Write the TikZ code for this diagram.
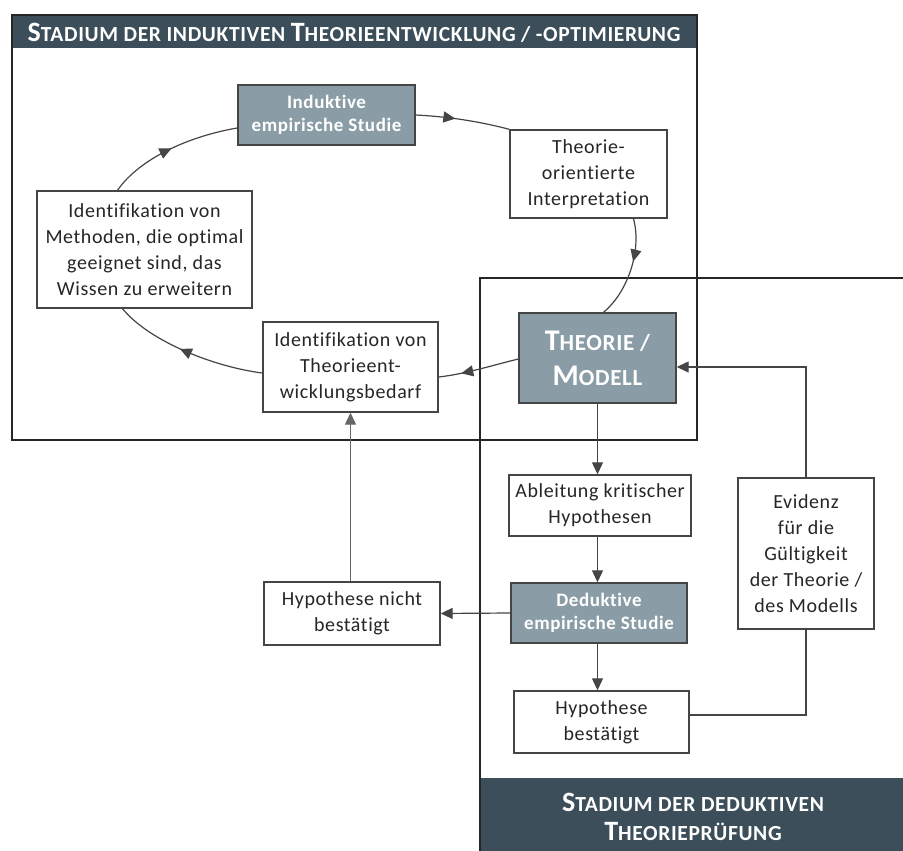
\documentclass[tikz,border=0pt]{standalone}
\usepackage{fontspec}
\setmainfont{Carlito}[LetterSpace=3,Ligatures=NoCommon]
\usetikzlibrary{arrows.meta,decorations.markings,calc}
\definecolor{hdr}{HTML}{3B4E59}
\definecolor{boxgray}{HTML}{8A9DA7}
\definecolor{ln}{HTML}{454545}
\newcommand\bigsc[1]{{\fontsize{28}{28}\selectfont #1}}
\newcommand\bigscb[1]{{\fontsize{30}{30}\selectfont #1}}
\tikzset{
  box/.style={draw=ln, line width=1.4pt, fill=white, align=center, inner sep=0pt,
    font=\fontsize{20}{26}\selectfont, text=black!85},
  graybox/.style={box, fill=boxgray, text=white, font=\bfseries\fontsize{19}{25}\selectfont},
  frame/.style={draw=black!85, line width=2.6pt},
  conn/.style={draw=ln, line width=1.2pt},
  arr/.style={conn, -{Triangle[length=12pt,width=11pt]}},
  midarr/.style={conn, postaction={decorate}, decoration={markings,
    mark=at position #1 with {\arrow{Triangle[length=12pt,width=11pt]}}}},
}
\begin{document}
\begin{tikzpicture}[x=1pt,y=-1pt]
\useasboundingbox (0,0) rectangle (903,851);
\fill[white] (0,0) rectangle (903,851);
% frames
\fill[hdr] (12,15) rectangle (697,48);
\draw[frame] (12,15) rectangle (697,440);
\fill[hdr] (480,778) rectangle (910,860);
\draw[frame] (480,860) -- (480,278) -- (910,278);
\node[text=white, font=\bfseries\fontsize{21.5}{21.5}\selectfont] (hdrtop) at (354,33)
  {\bigsc{S}TADIUM DER INDUKTIVEN \bigsc{T}HEORIEENTWICKLUNG / -OPTIMIERUNG};
\node[text=white, font=\bfseries\fontsize{21.5}{29}\selectfont, align=center] (hdrbot) at (693,817)
  {\bigsc{S}TADIUM DER DEDUKTIVEN\\\bigsc{T}HEORIEPRÜFUNG};
% nodes
\node[graybox, minimum width=177, minimum height=60] (ind) at (326.5,115) {Induktive\\[-2pt]empirische Studie};
\node[box, minimum width=157, minimum height=88] (tint) at (588.5,174) {Theorie-\\orientierte\\Interpretation};
\node[box, minimum width=215, minimum height=117] (meth) at (144.5,249.5) {Identifikation von\\Methoden, die optimal\\geeignet sind, das\\Wissen zu erweitern};
\node[box, minimum width=175, minimum height=90] (bed) at (350.5,367) {Identifikation von\\Theorieent-\\wicklungsbedarf};
\node[graybox, minimum width=157, minimum height=90, font=\bfseries\fontsize{23}{35}\selectfont] (mod) at (597.5,358) {\bigscb{T}HEORIE /\\\bigscb{M}ODELL};
\node[box, minimum width=182, minimum height=61] (abl) at (600,505.5) {Ableitung kritischer\\Hypothesen};
\node[graybox, minimum width=176, minimum height=60] (ded) at (599,613) {Deduktive\\[-2pt]empirische Studie};
\node[box, minimum width=175, minimum height=62] (hb) at (601.5,722) {Hypothese\\bestätigt};
\node[box, minimum width=136, minimum height=151] (evi) at (806,553.5) {Evidenz\\für die\\Gültigkeit\\der Theorie /\\des Modells};
\node[box, minimum width=176, minimum height=63] (hnb) at (352,613.5) {Hypothese nicht\\bestätigt};
% cycle
\draw[midarr=0.42] (ind.east) .. controls (455,117) and (485,123) .. (tint.north west);
\draw[midarr=0.42] ($(tint.south)+(45,0)$) .. controls (642,250) and (628,292) .. ($(mod.north)+(6,0)$);
\draw[midarr=0.72] ($(mod.west)+(0,1)$) .. controls (490,366) and (465,374) .. ($(bed.east)+(0,10)$);
\draw[midarr=0.55] ($(bed.west)+(0,6)$) .. controls (215,367) and (150,342) .. ($(meth.south)+(-22,0)$);
\draw[midarr=0.5] ($(meth.north)+(-27,0)$) .. controls (140,158) and (190,136) .. ($(ind.west)+(0,13)$);
% deductive chain
\draw[arr] (mod.south) -- (mod.south |- abl.north);
\draw[arr] (abl.south -| mod.south) -- (mod.south |- ded.north);
\draw[arr] (ded.south -| mod.south) -- (mod.south |- hb.north);
\draw[arr] (ded.west) -- (hnb.east);
\draw[arr, draw=black!60] (hnb.north -| bed.south) -- (bed.south);
\draw[conn] ($(hb.east)+(0,-7)$) -| (evi.south);
\draw[arr] (evi.north) |- ($(mod.east)+(0,9)$);
\end{tikzpicture}
\end{document}
